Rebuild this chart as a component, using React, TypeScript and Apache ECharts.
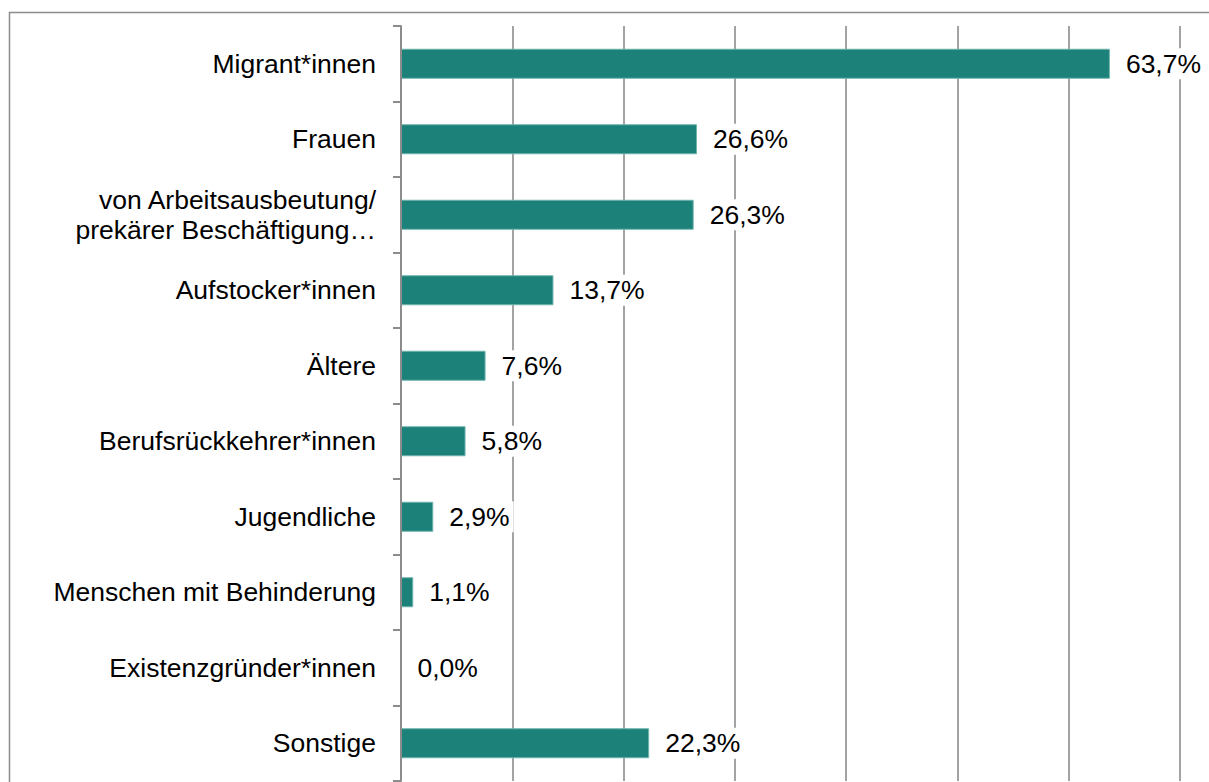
import React, { useEffect, useRef } from "react";
import * as echarts from "echarts";

const categories = [
  "Migrant*innen",
  "Frauen",
  "von Arbeitsausbeutung/\nprekärer Beschäftigung…",
  "Aufstocker*innen",
  "Ältere",
  "Berufsrückkehrer*innen",
  "Jugendliche",
  "Menschen mit Behinderung",
  "Existenzgründer*innen",
  "Sonstige",
];
const values = [63.7, 26.6, 26.3, 13.7, 7.6, 5.8, 2.9, 1.1, 0.0, 22.3];

const FONT = "'Liberation Sans', Arial, sans-serif";

export default function App() {
  const ref = useRef<HTMLDivElement>(null);
  useEffect(() => {
    if (!ref.current) return;
    const chart = echarts.init(ref.current, undefined, { renderer: "svg" });
    chart.setOption({
      animation: false,
      backgroundColor: "#ffffff",
      textStyle: { fontFamily: FONT },
      graphic: [
        {
          type: "rect",
          shape: { x: 9.5, y: 12.5, width: 1400, height: 1000 },
          style: { fill: "none", stroke: "#8c8c8c", lineWidth: 1.5 },
          silent: true,
          z: -10,
        },
      ],
      grid: { left: 401, right: 29, top: 26, bottom: 1, containLabel: false },
      xAxis: {
        type: "value",
        min: 0,
        max: 70,
        interval: 10,
        axisLabel: { show: false },
        axisLine: { show: false },
        axisTick: { show: false },
        splitLine: { show: true, lineStyle: { color: "#999999", width: 1.8 } },
      },
      yAxis: {
        type: "category",
        data: categories,
        inverse: true,
        axisLine: { show: true, lineStyle: { color: "#8c8c8c", width: 2 } },
        axisTick: { show: true, length: 8, lineStyle: { color: "#8c8c8c", width: 2 } },
        axisLabel: {
          margin: 25,
          color: "#000000",
          fontSize: 26.5,
          fontFamily: FONT,
          lineHeight: 30,
          align: "right",
        },
        z: 5,
      },
      series: [
        {
          type: "bar",
          data: values,
          barWidth: 30,
          itemStyle: { color: "#1b8179", borderColor: "#6fb3ad", borderWidth: 1 },
          label: {
            show: true,
            position: "right",
            distance: 12,
            color: "#000000",
            fontSize: 26.5,
            fontFamily: FONT,
            backgroundColor: "#ffffff",
            padding: [2, 4],
            formatter: (p: any) => p.value.toFixed(1).replace(".", ",") + "%",
          },
        },
      ],
    });
    return () => chart.dispose();
  }, []);
  return (
    <div
      ref={ref}
      style={{ position: "fixed", left: 0, top: 0, width: 1209, height: 782 }}
    />
  );
}
